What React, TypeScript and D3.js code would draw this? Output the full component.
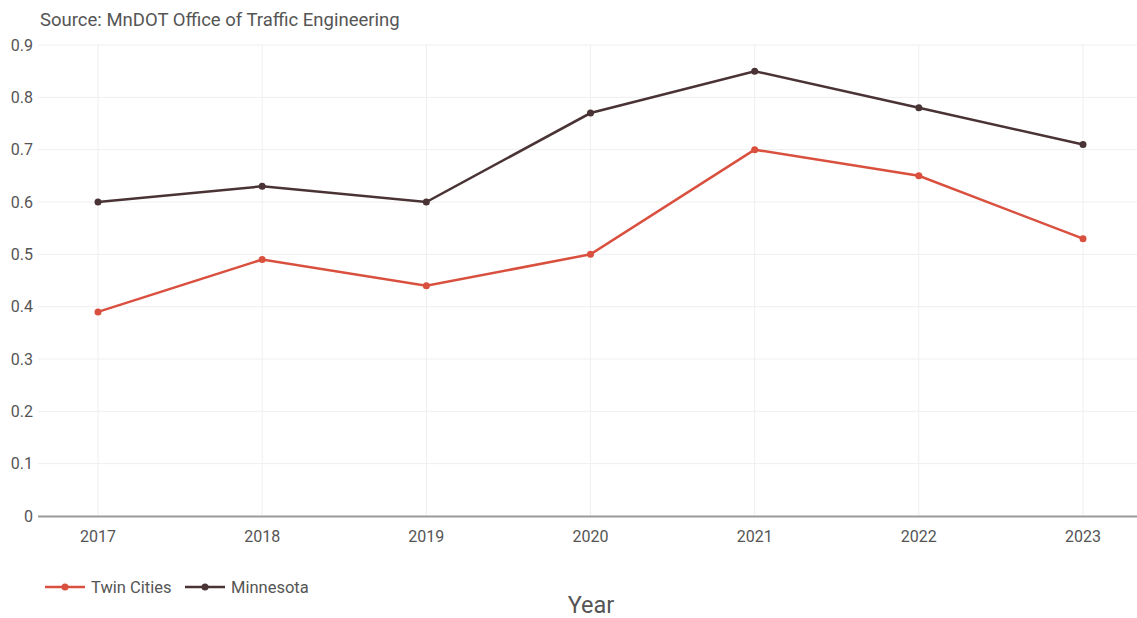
import React from "react";
import * as d3 from "d3";

const years = ["2017", "2018", "2019", "2020", "2021", "2022", "2023"];
const twinCities = [0.39, 0.49, 0.44, 0.5, 0.7, 0.65, 0.53];
const minnesota = [0.6, 0.63, 0.6, 0.77, 0.85, 0.78, 0.71];
const yTicks = [0, 0.1, 0.2, 0.3, 0.4, 0.5, 0.6, 0.7, 0.8, 0.9];

const W = 1137;
const H = 618;
const RED = "#d9503f";
const DARK = "#4a3334";
const FONT = "Roboto, 'Liberation Sans', Arial, sans-serif";

export default function App() {
  const x = d3.scalePoint<string>().domain(years).range([98, 1083]);
  const y = d3.scaleLinear().domain([0, 0.9]).range([516, 45]);
  const line = d3
    .line<number>()
    .x((_, i) => x(years[i]) as number)
    .y((d) => y(d));

  const series = [
    { name: "Twin Cities", values: twinCities, color: RED },
    { name: "Minnesota", values: minnesota, color: DARK },
  ];

  return (
    <svg
      width={W}
      height={H}
      style={{ position: "absolute", left: 0, top: 0, background: "#fff" }}
      fontFamily={FONT}
    >
      <text x={40} y={26} fontSize={18.5} fill="#555">
        Source: MnDOT Office of Traffic Engineering
      </text>
      {yTicks.map((t) => (
        <g key={t}>
          {t > 0 && (
            <line x1={38} x2={W} y1={y(t)} y2={y(t)} stroke="#efefef" strokeWidth={1} />
          )}
          <text
            x={33}
            y={y(t)}
            dy="0.35em"
            textAnchor="end"
            fontSize={16}
            fill="#555"
          >
            {d3.format("")(t)}
          </text>
        </g>
      ))}
      {years.map((yr) => (
        <g key={yr}>
          <line
            x1={x(yr)}
            x2={x(yr)}
            y1={45}
            y2={516}
            stroke="#efefef"
            strokeWidth={1}
          />
          <text
            x={x(yr)}
            y={542}
            textAnchor="middle"
            fontSize={16}
            fill="#555"
          >
            {yr}
          </text>
        </g>
      ))}
      <line x1={38} x2={W} y1={516.5} y2={516.5} stroke="#9a9a9a" strokeWidth={2} />
      {series.map((s) => (
        <g key={s.name}>
          <path d={line(s.values) || ""} fill="none" stroke={s.color} strokeWidth={2.5} />
          {s.values.map((v, i) => (
            <circle key={i} cx={x(years[i])} cy={y(v)} r={3.5} fill={s.color} />
          ))}
        </g>
      ))}
      {series.map((s, i) => {
        const lx = i === 0 ? 45 : 185;
        return (
          <g key={s.name}>
            <line x1={lx} x2={lx + 40} y1={587} y2={587} stroke={s.color} strokeWidth={2.5} />
            <circle cx={lx + 20} cy={587} r={3.5} fill={s.color} />
            <text x={lx + 46} y={587} dy="0.35em" fontSize={16.5} fill="#555">
              {s.name}
            </text>
          </g>
        );
      })}
      <text x={591} y={613} textAnchor="middle" fontSize={23.5} fill="#555">
        Year
      </text>
    </svg>
  );
}
